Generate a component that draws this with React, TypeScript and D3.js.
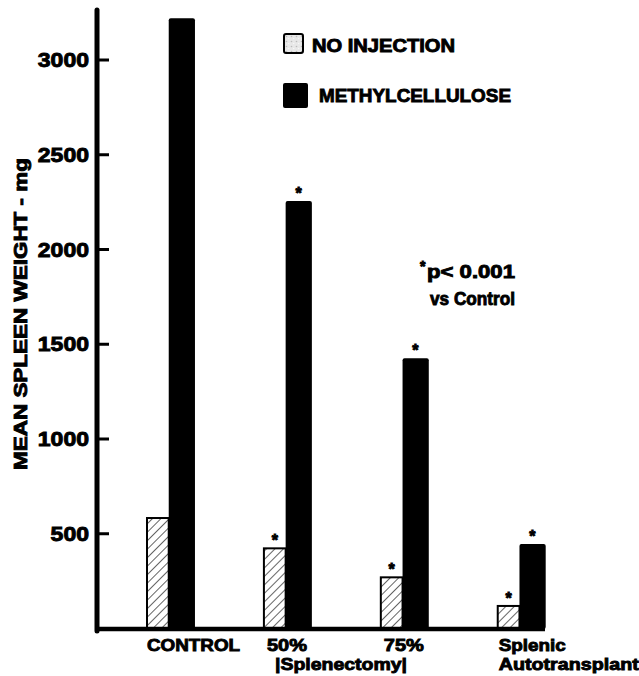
import React from "react";
import * as d3 from "d3";

const categories = ["CONTROL", "50%", "75%", "Splenic"];
const categoryLabelLine1 = ["CONTROL", "50%", "75%", "Splenic"];
const categoryLabelLine2 = ["", "", "", "Autotransplant"];
const seriesNames = ["NO INJECTION", "METHYLCELLULOSE"];
const noInjection = [583, 423, 270, 119];
const methylcellulose = [3220, 2256, 1426, 446];
const noInjectionSig = [false, true, true, true];
const methylSig = [false, true, true, true];
const yTicks = [500, 1000, 1500, 2000, 2500, 3000];

const W = 639;
const H = 676;
const FONT = "'Liberation Sans', Arial, Helvetica, sans-serif";

const heavy = { stroke: "#000", strokeWidth: 0.9, fill: "#000" } as const;

export default function App() {
  const y = d3.scaleLinear().domain([0, 3000]).range([628.5, 60]);
  const x0 = d3
    .scaleBand<string>()
    .domain(categories)
    .range([146, 544.2])
    .paddingInner(0.594)
    .paddingOuter(0)
    .align(0);
  const x1 = d3
    .scaleBand<string>()
    .domain(seriesNames)
    .range([0, x0.bandwidth()]);

  const series = [
    { name: seriesNames[0], values: noInjection, sig: noInjectionSig },
    { name: seriesNames[1], values: methylcellulose, sig: methylSig },
  ];

  const axisX = 97;
  const baseY = 629;
  const line1W = [93, 40, 40, 67];
  const line2W = [0, 0, 0, 140];

  return (
    <svg
      width={W}
      height={H}
      viewBox={`0 0 ${W} ${H}`}
      style={{ position: "absolute", left: 0, top: 0, background: "#fff" }}
      fontFamily={FONT}
    >
      <defs>
        <pattern
          id="hatch"
          patternUnits="userSpaceOnUse"
          width={6}
          height={6}
          patternTransform="rotate(45)"
        >
          <rect width={6} height={6} fill="#fff" />
          <line x1={0} y1={0} x2={0} y2={6} stroke="#111" strokeWidth={1.3} />
        </pattern>
        <pattern id="speckle" patternUnits="userSpaceOnUse" width={5} height={5}>
          <rect width={5} height={5} fill="#e8e8e8" />
          <circle cx={1.5} cy={1.5} r={0.8} fill="#bbb" />
          <circle cx={3.8} cy={3.6} r={0.6} fill="#fff" />
        </pattern>
      </defs>

      {/* bars */}
      {series.map((s, si) =>
        categories.map((c, ci) => {
          const bx = (x0(c) as number) + (x1(s.name) as number);
          const bw = x1.bandwidth();
          const top = y(s.values[ci]);
          const hatched = si === 0;
          return (
            <g key={`${si}-${ci}`}>
              {hatched ? (
                <rect
                  x={bx + 1}
                  y={top}
                  width={bw - 2}
                  height={baseY - top}
                  fill="url(#hatch)"
                  stroke="#000"
                  strokeWidth={2}
                />
              ) : (
                <rect
                  x={bx - 1}
                  y={top}
                  width={bw + 2.5}
                  height={baseY - top}
                  fill="#000"
                  rx={2}
                />
              )}
              {s.sig[ci] && (
                <text
                  x={bx + bw / 2}
                  y={top - 2}
                  textAnchor="middle"
                  fontSize={16}
                  fontWeight="bold"
                  {...heavy}
                >
                  *
                </text>
              )}
            </g>
          );
        })
      )}

      {/* axes */}
      <line x1={axisX} y1={10} x2={axisX} y2={baseY + 2} stroke="#000" strokeWidth={5} strokeLinecap="round" />
      <line x1={axisX - 2} y1={baseY} x2={545} y2={baseY} stroke="#000" strokeWidth={4.5} />
      {yTicks.map((t) => (
        <g key={t}>
          <line x1={axisX} y1={y(t)} x2={109} y2={y(t)} stroke="#000" strokeWidth={3} />
          <text
            x={89}
            y={y(t) + 7}
            textAnchor="end"
            fontSize={20}
            fontWeight="bold"
            textLength={String(t).length * 12.8}
            lengthAdjust="spacingAndGlyphs"
            {...heavy}
          >
            {t}
          </text>
        </g>
      ))}

      {/* y label */}
      <text
        transform="translate(27,314) rotate(-90)"
        textAnchor="middle"
        fontSize={19}
        fontWeight="bold"
        textLength={312}
        lengthAdjust="spacingAndGlyphs"
        {...heavy}
      >
        MEAN SPLEEN WEIGHT - mg
      </text>

      {/* category labels */}
      {categories.map((c, i) => (
        <g key={c}>
          <text
            x={(x0(c) as number) + (i === 0 ? 1 : i === 3 ? 2 : 4)}
            y={651}
            fontSize={17}
            fontWeight="bold"
            textLength={line1W[i]}
            lengthAdjust="spacingAndGlyphs"
            {...heavy}
          >
            {categoryLabelLine1[i]}
          </text>
          {categoryLabelLine2[i] && (
            <text
              x={(x0(c) as number) + 2}
              y={670}
              fontSize={17}
              fontWeight="bold"
              textLength={line2W[i]}
              lengthAdjust="spacingAndGlyphs"
              {...heavy}
            >
              {categoryLabelLine2[i]}
            </text>
          )}
        </g>
      ))}
      <text x={275} y={670} fontSize={17} fontWeight="bold" textLength={132} lengthAdjust="spacingAndGlyphs" {...heavy}>
        |Splenectomy|
      </text>

      {/* legend */}
      <rect x={284} y={34} width={19} height={19} fill="url(#speckle)" stroke="#000" strokeWidth={2} rx={2} />
      <text x={312} y={52} fontSize={18} fontWeight="bold" textLength={143} lengthAdjust="spacingAndGlyphs" {...heavy}>
        {seriesNames[0]}
      </text>
      <rect x={283} y={83} width={25} height={25} fill="#000" rx={2} />
      <text x={319} y={102} fontSize={19} fontWeight="bold" textLength={192} lengthAdjust="spacingAndGlyphs" {...heavy}>
        {seriesNames[1]}
      </text>

      {/* annotation */}
      <text x={420} y={271} fontSize={14} fontWeight="bold" {...heavy}>*</text>
      <text x={427} y={278} fontSize={18} fontWeight="bold" textLength={88} lengthAdjust="spacingAndGlyphs" {...heavy}>
        p&lt; 0.001
      </text>
      <text x={430} y={305} fontSize={18} fontWeight="bold" textLength={85} lengthAdjust="spacingAndGlyphs" {...heavy}>
        vs Control
      </text>
    </svg>
  );
}
